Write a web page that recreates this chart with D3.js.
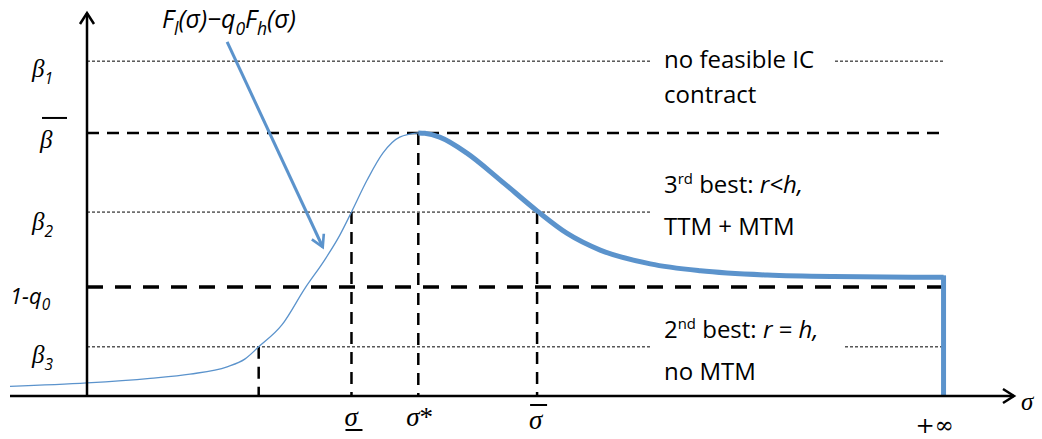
<!DOCTYPE html>
<html>
<head>
<meta charset="utf-8">
<script src="https://cdn.jsdelivr.net/npm/d3@7"></script>
<style>
  body { margin: 0; background: #fff; }
  svg { display: block; }
</style>
</head>
<body>
<svg width="1042" height="439"></svg>
<script>
// values (sigma on x, beta on y, arbitrary units)
const risingSigma = [-8.3, 0, 6.8, 11.1, 15.1, 17.0, 18.5, 21.0, 23.5, 25.6, 27.2, 28.5, 30.2, 31.9, 33.7, 35.7];
const risingValue = [2.5, 3.4, 4.6, 5.7, 7.6, 9.6, 12.8, 18.5, 28.1, 35.4, 41.7, 47.9, 56.3, 63.3, 67.4, 68.5];
const fallingSigma = [35.7, 36.4, 38.0, 40.9, 44.5, 48.5, 51.7, 55.3, 60.7, 66.1, 73.3, 80.4, 92.3];
const fallingValue = [68.5, 68.4, 67.4, 63.3, 56.3, 48.2, 42.4, 38.0, 34.4, 32.6, 31.5, 31.1, 30.9];

const levelKeys = ["b1", "bbar", "b2", "q", "b3"];
const levelValues = [87.2, 68.5, 47.9, 28.4, 12.8];

const cutKeys = ["s3", "slow", "sstar", "sbar"];
const cutSigma = [18.5, 28.5, 35.7, 48.5];
const cutLevel = [12.8, 47.9, 68.5, 47.9];

const sigmaInf = 92.3;
const arrowFrom = [15.1, 92.2];
const arrowTo = [25.4, 38.8];

const BLUE = "#5b93cc";
const SERIF = "'Liberation Serif', 'DejaVu Serif', serif";
const SANS = "'Open Sans', Lato, 'Liberation Sans', sans-serif";

const svg = d3.select("svg");
const g = svg.append("g");

const x = d3.scaleLinear().domain([0, 100]).range([87, 1015]);
const y = d3.scaleLinear().domain([0, 100]).range([396, 12]);

const level = new Map(levelKeys.map((k, i) => [k, levelValues[i]]));

// horizontal guide lines (segments broken where the region text sits)
const gapStart = x.invert(652);
function hline(v, x0, x1, kind) {
  const l = g.append("line")
    .attr("x1", x(x0)).attr("x2", x(x1))
    .attr("y1", y(v)).attr("y2", y(v))
    .attr("stroke", "#000");
  if (kind === "thin") l.attr("stroke-width", 1).attr("stroke-dasharray", "3,2");
  else if (kind === "mid") l.attr("stroke-width", 2.5).attr("stroke-dasharray", "12,8");
  else l.attr("stroke-width", 3.5).attr("stroke-dasharray", "16,12");
}
hline(level.get("b1"), 0, gapStart, "thin");
hline(level.get("b1"), x.invert(835), sigmaInf, "thin");
hline(level.get("bbar"), 0, sigmaInf, "mid");
hline(level.get("b2"), 0, gapStart, "thin");
hline(level.get("q"), 0, sigmaInf, "thick");
hline(level.get("b3"), 0, gapStart, "thin");
hline(level.get("b3"), x.invert(845), sigmaInf, "thin");

// vertical dashed drops
g.selectAll("line.cut")
  .data(cutKeys.map((k, i) => ({ k, s: cutSigma[i], v: cutLevel[i] })))
  .join("line")
  .attr("class", "cut")
  .attr("x1", (d) => x(d.s)).attr("x2", (d) => x(d.s))
  .attr("y1", (d) => y(d.v)).attr("y2", y(0))
  .attr("stroke", "#000")
  .attr("stroke-width", 2.5)
  .attr("stroke-dasharray", "12,8");

// curves
const line = d3.line().x((d) => x(d[0])).y((d) => y(d[1])).curve(d3.curveMonotoneX);
const rising = risingSigma.map((s, i) => [s, risingValue[i]]);
const falling = fallingSigma.map((s, i) => [s, fallingValue[i]]);

g.append("path").datum(rising).attr("d", line)
  .attr("fill", "none").attr("stroke", BLUE).attr("stroke-width", 1.3);
g.append("path").datum(falling).attr("d", line)
  .attr("fill", "none").attr("stroke", BLUE).attr("stroke-width", 5);
g.append("line")
  .attr("x1", x(sigmaInf)).attr("x2", x(sigmaInf))
  .attr("y1", y(fallingValue[fallingValue.length - 1]) - 2).attr("y2", y(0))
  .attr("stroke", BLUE).attr("stroke-width", 5);

// axes
const axisW = 2.5;
g.append("line").attr("x1", x(0)).attr("x2", x(0)).attr("y1", y(0)).attr("y2", 13)
  .attr("stroke", "#000").attr("stroke-width", axisW);
g.append("line").attr("x1", 10).attr("x2", 1014).attr("y1", y(0)).attr("y2", y(0))
  .attr("stroke", "#000").attr("stroke-width", axisW);
g.append("path").attr("d", `M${x(0) - 7},${24} L${x(0)},${13} L${x(0) + 7},${24}`)
  .attr("fill", "none").attr("stroke", "#000").attr("stroke-width", axisW);
g.append("path").attr("d", `M1003,${y(0) - 7} L1014,${y(0)} L1003,${y(0) + 7}`)
  .attr("fill", "none").attr("stroke", "#000").attr("stroke-width", axisW);

// annotation arrow
svg.append("defs").append("marker")
  .attr("id", "head").attr("viewBox", "0 0 10 10")
  .attr("refX", 8).attr("refY", 5)
  .attr("markerWidth", 5.5).attr("markerHeight", 5.5)
  .attr("orient", "auto")
  .append("path").attr("d", "M1,1 L8,5 L1,9")
  .attr("fill", "none").attr("stroke", BLUE).attr("stroke-width", 1.6);
g.append("line")
  .attr("x1", x(arrowFrom[0])).attr("y1", y(arrowFrom[1]))
  .attr("x2", x(arrowTo[0])).attr("y2", y(arrowTo[1]))
  .attr("stroke", BLUE).attr("stroke-width", 3)
  .attr("marker-end", "url(#head)");

// rich text helper: parts = [[text, kind]] kind: n, i, sub, sup, isub
function rich(px, py, parts, opts) {
  const t = g.append("text").attr("x", px).attr("y", py)
    .attr("font-family", opts.family).attr("font-size", opts.size)
    .attr("font-style", opts.italic ? "italic" : "normal")
    .attr("fill", "#000");
  let shift = 0;
  parts.forEach(([txt, kind]) => {
    const s = t.append("tspan").text(txt);
    let want = 0;
    if (kind === "sub" || kind === "isub") {
      want = opts.size * 0.28;
      s.attr("font-size", opts.size * (opts.subScale || 0.65));
      if (opts.subFamily) s.attr("font-family", opts.subFamily);
    } else if (kind === "sup") {
      want = -opts.size * 0.38;
      s.attr("font-size", opts.size * 0.62);
    }
    if (kind === "i" || kind === "isub") s.attr("font-style", "italic");
    if (kind === "n") s.attr("font-style", "normal");
    s.attr("dy", want - shift);
    shift = want;
  });
  return t;
}

// y-axis labels
const betaOpt = { family: SERIF, size: 25, italic: true, subFamily: SANS, subScale: 0.62 };
rich(32, y(level.get("b1")) + 16, [["β", "i"], ["1", "isub"]], betaOpt);
rich(32, y(level.get("b2")) + 18, [["β", "i"], ["2", "isub"]], betaOpt);
rich(32, y(level.get("b3")) + 16, [["β", "i"], ["3", "isub"]], betaOpt);
rich(40, y(level.get("bbar")) + 15, [["β", "i"]], betaOpt);
g.append("line").attr("x1", 42).attr("x2", 67)
  .attr("y1", y(level.get("bbar")) - 15).attr("y2", y(level.get("bbar")) - 15)
  .attr("stroke", "#000").attr("stroke-width", 2);
rich(10, y(level.get("q")) + 17, [["1-q", "i"], ["0", "isub"]],
  { family: SANS, size: 22, italic: true, subScale: 0.7 });

// x-axis labels
const sigOpt = { family: SERIF, size: 27, italic: true };
rich(x(cutSigma[1]) - 7, 426, [["σ", "i"]], sigOpt);
g.append("line").attr("x1", x(cutSigma[1]) - 6).attr("x2", x(cutSigma[1]) + 11)
  .attr("y1", 430).attr("y2", 430).attr("stroke", "#000").attr("stroke-width", 2);
rich(x(cutSigma[2]) - 12, 426, [["σ", "i"], ["*", "n"]], sigOpt);
rich(x(cutSigma[3]) - 8, 429, [["σ", "i"]], sigOpt);
g.append("line").attr("x1", x(cutSigma[3]) - 7).attr("x2", x(cutSigma[3]) + 10)
  .attr("y1", 405).attr("y2", 405).attr("stroke", "#000").attr("stroke-width", 2);
rich(x(sigmaInf) - 28, 433, [["+∞", "n"]], { family: "'DejaVu Serif', serif", size: 23 });
rich(1021, 410, [["σ", "i"]], { family: SERIF, size: 25, italic: true });

// curve label
rich(162, 28, [["F", "i"], ["l", "isub"], ["(σ)−q", "i"], ["0", "isub"], ["F", "i"], ["h", "isub"], ["(σ)", "i"]],
  { family: SANS, size: 25, italic: true, subScale: 0.7 });

// region text
const regOpt = { family: SANS, size: 24 };
rich(664, 68, [["no feasible IC", "n"]], regOpt);
rich(664, 103, [["contract", "n"]], regOpt);
rich(664, 193, [["3", "n"], ["rd", "sup"], [" best: ", "n"], ["r<h,", "i"]], regOpt);
rich(664, 235, [["TTM + MTM", "n"]], regOpt);
rich(664, 338, [["2", "n"], ["nd", "sup"], [" best: ", "n"], ["r", "i"], [" = ", "n"], ["h,", "i"]], regOpt);
rich(664, 380, [["no MTM", "n"]], regOpt);
</script>
</body>
</html>
